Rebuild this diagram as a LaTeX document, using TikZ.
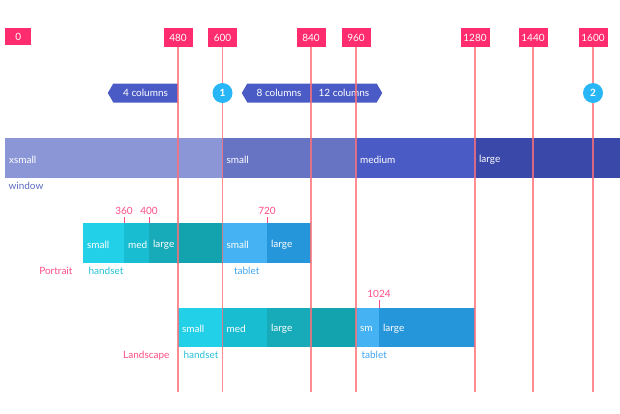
\documentclass[tikz,border=0pt]{standalone}
\usepackage{fontspec}
\setmainfont{Lato}
\usetikzlibrary{positioning,shapes.symbols}
\definecolor{tagpink}{HTML}{FF2D6F}
\definecolor{linered}{HTML}{FF6F78}
\definecolor{colblue}{HTML}{4A5BC6}
\definecolor{dotblue}{HTML}{29B6F6}
\definecolor{winxs}{HTML}{8A96D6}
\definecolor{wins}{HTML}{6774C4}
\definecolor{winm}{HTML}{4A5BC6}
\definecolor{winl}{HTML}{3A48AA}
\definecolor{hsa}{HTML}{22D0E8}
\definecolor{hsb}{HTML}{18BDD2}
\definecolor{hsc}{HTML}{17AAB8}
\definecolor{hsd}{HTML}{13A3AF}
\definecolor{tba}{HTML}{44B2F3}
\definecolor{tbb}{HTML}{2696DB}
\definecolor{hstext}{HTML}{26C0D6}
\definecolor{tbtext}{HTML}{42A5F0}
\definecolor{wintext}{HTML}{5C6BC0}
\definecolor{rowpink}{HTML}{FF4D85}

\begin{document}
\begin{tikzpicture}[x=1pt,y=-1pt,font=\fontsize{10}{11}\selectfont,
    tag/.style={fill=tagpink,text=white,minimum width=29pt,minimum height=19pt,inner sep=0pt,anchor=north},
    vline/.style={linered,line width=1.3pt,opacity=0.8},
    cols/.style={signal,signal pointer angle=120,fill=colblue,text=white,minimum height=19pt,inner sep=2pt},
    dot/.style={circle,fill=dotblue,text=white,minimum size=20pt,inner sep=0pt,font=\fontsize{10}{11}\selectfont\bfseries},
    seg/.style={rectangle,inner sep=0pt,outer sep=0pt,anchor=west},
    seglab/.style={anchor=west,text=white,xshift=0.5pt,yshift=-1.5pt},
    tick/.style={rowpink,line width=0.8pt},
    num/.style={text=rowpink,inner sep=2.5pt,anchor=south}]
\useasboundingbox (0,0) rectangle (620,413);
\coordinate (row) at (0,93);
\coordinate (floor) at (0,392);

% breakpoints
\node[tag,minimum width=26pt,minimum height=17pt,anchor=north west] (t0) at (5,28) {0};
\foreach \v/\x in {480/178,600/222.5,840/311,960/356,1280/475,1440/533,1600/593}
  \node[tag] (t\v) at (\x,28) {\v};

% columns
\node[cols,signal to=west,minimum width=70pt,anchor=east] (cols4) at (t480.south |- row) {4 columns};
\node[cols,signal to=west,minimum width=69pt,anchor=east] (cols8) at (t840.south |- row) {8 columns};
\node[cols,signal to=east,minimum width=71pt,anchor=west] (cols12) at (t840.south |- row) {12 columns};

% window
\foreach \n/\a/\b/\c in {xsmall/5/222.5/winxs,small/222.5/356/wins,medium/356/475/winm,large/475/620/winl}
  \node[seg,fill=\c,minimum width={\b-\a},minimum height=40pt,label={[seglab]west:\n}] (w\n) at (\a,158) {};
\node[below right=1pt and 0pt of wxsmall.south west,text=wintext] (wlab) {window};

% portrait
\foreach \n/\t/\a/\b/\c in {ps/small/83/124/hsa,pm/med/124/149/hsb,pl/large/149/178/hsc,pt/small/222.5/267/tba,ptl/large/267/311/tbb}
  \node[seg,fill=\c,minimum width={\b-\a},minimum height=40pt,label={[seglab]west:\t}] (\n) at (\a,243) {};
\node[seg,fill=hsd,minimum width=44.5pt,minimum height=40pt] (px) at (178,243) {};
\node[below right=1pt and 2pt of ps.south west,text=hstext] (phs) {handset};
\node[below right=1pt and 8pt of pt.south west,text=tbtext] (ptb) {tablet};
\node[left=9pt of phs,text=rowpink] (plab) {Portrait};
\foreach \n/\v in {pm/360,pl/400,ptl/720}{
  \draw[tick] (\n.north west) -- ++(0,-6) coordinate (k\v);
  \node[num] at (k\v) {\v};
}

% landscape
\foreach \n/\t/\a/\b/\c in {ls/small/178/222.5/hsa,lm/med/222.5/267/hsb,ll/large/267/311/hsc,lt/sm/356/379/tba,ltl/large/379/475/tbb}
  \node[seg,fill=\c,minimum width={\b-\a},minimum height=39pt,label={[seglab]west:\t}] (\n) at (\a,327.5) {};
\node[seg,fill=hsd,minimum width=45pt,minimum height=39pt] (lx) at (311,327.5) {};
\node[below right=1pt and 2pt of ls.south west,text=hstext] (lhs) {handset};
\node[below right=1pt and 2pt of lt.south west,text=tbtext] (ltb) {tablet};
\node[left=7pt of lhs,text=rowpink] (llab) {Landscape};
\draw[tick] (ltl.north west) -- ++(0,-8) coordinate (k1024);
\node[num] at (k1024) {1024};

% lines
\foreach \v in {480,600,840,960,1280,1440,1600}
  \draw[vline] (t\v.south) -- (t\v.south |- floor);
\node[dot] (d1) at (t600.south |- row) {1};
\node[dot] (d2) at (t1600.south |- row) {2};
\end{tikzpicture}
\end{document}
